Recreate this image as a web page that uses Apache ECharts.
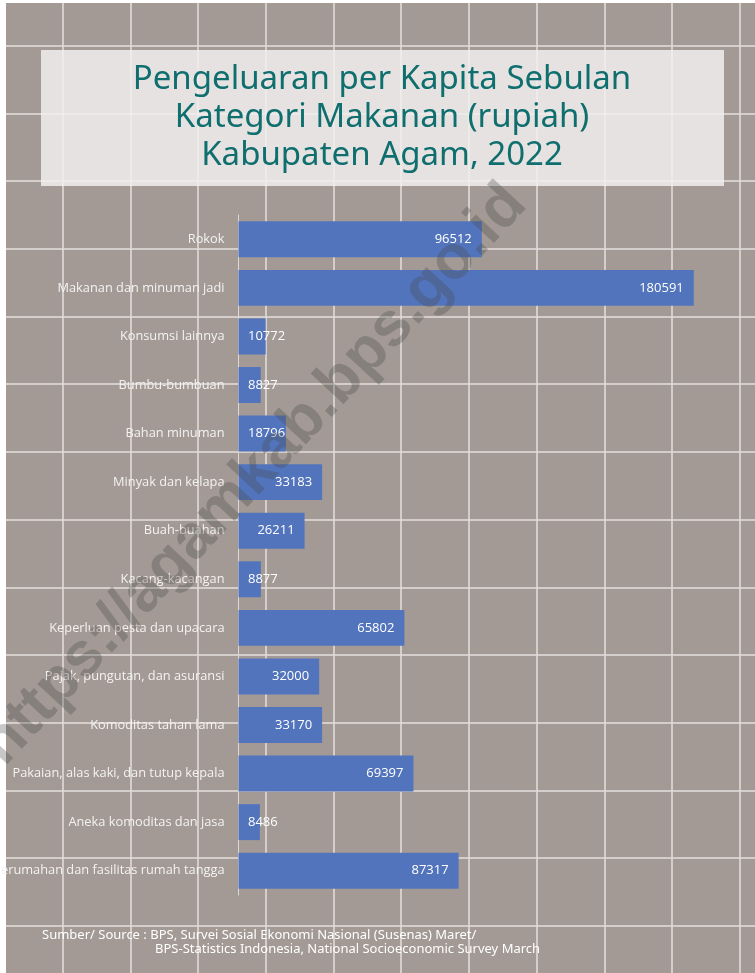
<!DOCTYPE html>
<html>
<head>
<meta charset="utf-8">
<script src="https://cdn.jsdelivr.net/npm/echarts@6/dist/echarts.min.js"></script>
<style>
  html, body { margin: 0; padding: 0; }
  body {
    width: 755px; height: 973px;
    background-color: #a39a95;
    background-image:
      linear-gradient(to right, #ffffff 0, #ffffff 6px, transparent 6px),
      linear-gradient(to bottom, #ffffff 0, #ffffff 3px, transparent 3px),
      repeating-linear-gradient(to right, transparent 0, transparent 62px, rgba(225,219,217,0.8) 62px, rgba(225,219,217,0.8) 64px, transparent 64px, transparent 67.7px),
      repeating-linear-gradient(to bottom, transparent 0, transparent 45px, rgba(225,219,217,0.8) 45px, rgba(225,219,217,0.8) 47px, transparent 47px, transparent 67.7px);
  }
  #chart { width: 755px; height: 973px; }
</style>
</head>
<body>
<div id="chart"></div>
<script>
// kategori dari atas ke bawah
var categories = [
  'Rokok',
  'Makanan dan minuman jadi',
  'Konsumsi lainnya',
  'Bumbu-bumbuan',
  'Bahan minuman',
  'Minyak dan kelapa',
  'Buah-buahan',
  'Kacang-kacangan',
  'Keperluan pesta dan upacara',
  'Pajak, pungutan, dan asuransi',
  'Komoditas tahan lama',
  'Pakaian, alas kaki, dan tutup kepala',
  'Aneka komoditas dan jasa',
  'Perumahan dan fasilitas rumah tangga'
]
var values = [96512, 180591, 10772, 8827, 18796, 33183, 26211, 8877, 65802, 32000, 33170, 69397, 8486, 87317]

var titleLines = ['Pengeluaran per Kapita Sebulan', 'Kategori Makanan (rupiah)', 'Kabupaten Agam, 2022']
var sourceLine1 = 'Sumber/ Source : BPS, Survei Sosial Ekonomi Nasional (Susenas) Maret/'
var sourceLine2 = 'BPS-Statistics Indonesia, National Socioeconomic Survey March'
var watermark = 'https://agamkab.bps.go.id'

var myChart = echarts.init(document.getElementById('chart'))

var barData = values.map(function (v) {
  // label pendek tidak muat di dalam batang -> taruh di kiri
  var small = v < 25000
  return {
    value: v,
    label: {
      position: small ? 'insideLeft' : 'insideRight',
      distance: small ? 9.5 : 10
    }
  }
})

var option = {
  animation: false,
  backgroundColor: 'transparent',
  grid: {
    left: 238.5,
    right: 12.3,
    top: 215,
    bottom: 78,
    outerBoundsMode: 'none'
  },
  xAxis: {
    type: 'value',
    min: 0,
    max: 200000,
    show: false
  },
  yAxis: {
    type: 'category',
    inverse: true,
    data: categories,
    axisLine: { show: true, lineStyle: { color: '#dcd8d6', width: 1 } },
    axisTick: { show: false },
    splitLine: { show: false },
    axisLabel: {
      color: '#f4f2f1',
      fontSize: 12.8,
      fontFamily: 'Open Sans',
      margin: 14
    }
  },
  series: [
    {
      type: 'bar',
      data: barData,
      barCategoryGap: '26%',
      itemStyle: { color: '#5274bc' },
      label: {
        show: true,
        color: '#ffffff',
        fontSize: 13,
        fontFamily: 'Open Sans'
      }
    }
  ],
  graphic: [
    {
      type: 'text',
      x: 254,
      y: 475,
      rotation: 0.82,
      z: 100,
      style: {
        text: watermark,
        align: 'center',
        verticalAlign: 'middle',
        font: 'bold 62px "Liberation Sans"',
        fill: 'rgba(70,70,70,0.3)'
      }
    },
    {
      type: 'rect',
      shape: { x: 41, y: 50, width: 683, height: 136 },
      z: -1,
      style: { fill: 'rgba(242,240,239,0.84)' }
    },
    {
      type: 'text',
      x: 382, y: 118,
      style: {
        text: titleLines.join('\n'),
        align: 'center',
        verticalAlign: 'middle',
        font: '33px "Comic Sans MS", "Noto Sans"',
        lineHeight: 38,
        fill: '#0f6e6e'
      }
    },
    {
      type: 'text',
      x: 42, y: 935,
      style: {
        text: sourceLine1,
        verticalAlign: 'middle',
        font: '13px "Comic Sans MS", "Noto Sans"',
        fill: '#ffffff'
      }
    },
    {
      type: 'text',
      x: 155, y: 949,
      style: {
        text: sourceLine2,
        verticalAlign: 'middle',
        font: '13px "Comic Sans MS", "Noto Sans"',
        fill: '#ffffff'
      }
    }
  ]
}

myChart.setOption(option)
</script>
</body>
</html>
